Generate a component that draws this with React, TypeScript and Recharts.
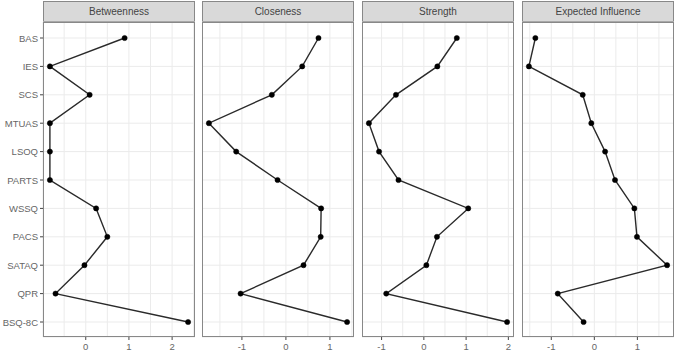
import { LineChart, Line, XAxis, YAxis, CartesianGrid } from 'recharts'

const nodes = ['BAS', 'IES', 'SCS', 'MTUAS', 'LSOQ', 'PARTS', 'WSSQ', 'PACS', 'SATAQ', 'QPR', 'BSQ-8C']

const betweenness = [0.9, -0.83, 0.09, -0.83, -0.83, -0.83, 0.24, 0.5, -0.03, -0.7, 2.37]
const closeness = [0.74, 0.37, -0.32, -1.75, -1.13, -0.19, 0.8, 0.79, 0.4, -1.03, 1.39]
const strength = [0.78, 0.32, -0.66, -1.3, -1.06, -0.6, 1.05, 0.31, 0.06, -0.89, 1.97]
const expectedInfluence = [-1.37, -1.52, -0.27, -0.07, 0.25, 0.48, 0.93, 0.99, 1.69, -0.85, -0.25]

const panels = [
  { title: 'Betweenness', values: betweenness, left: 43 },
  { title: 'Closeness', values: closeness, left: 202 },
  { title: 'Strength', values: strength, left: 362 },
  { title: 'Expected Influence', values: expectedInfluence, left: 522 },
]

const PANEL_W = 152
const TOP = 22
const BOTTOM = 337
const H = 352
const FONT = '"Liberation Sans", Arial, sans-serif'

// ggplot-style domain: data range padded by 5% on each side
function expandDomain(vals: number[]): [number, number] {
  const lo = Math.min(...vals)
  const hi = Math.max(...vals)
  const pad = (hi - lo) * 0.05
  return [lo - pad, hi + pad]
}

function halfTicks([lo, hi]: [number, number]) {
  const out: number[] = []
  for (let t = Math.ceil(lo * 2) / 2; t <= hi; t += 0.5) out.push(t)
  return out
}

function XTick(props: any) {
  const { x, payload } = props
  if (!Number.isInteger(payload.value)) return null
  return (
    <g>
      <line x1={x} x2={x} y1={BOTTOM} y2={BOTTOM + 3} stroke="#444" strokeWidth={1} />
      <text x={x} y={350} textAnchor="middle" fill="#666" fontSize={9.5} fontFamily={FONT}>
        {payload.value < 0 ? `-${Math.abs(payload.value)}` : payload.value}
      </text>
    </g>
  )
}

function YTick(props: any) {
  const { y, payload } = props
  const x = panels[0].left
  return (
    <g>
      <line x1={x - 3} x2={x} y1={y} y2={y} stroke="#444" strokeWidth={1} />
      <text x={x - 5} y={y} textAnchor="end" dominantBaseline="central" fill="#666" fontSize={9.5} fontFamily={FONT}>
        {payload.value}
      </text>
    </g>
  )
}

function Panel({ title, values, left, first }: { title: string; values: number[]; left: number; first: boolean }) {
  const data = nodes.map((name, i) => ({ name, value: values[i] }))
  const domain = expandDomain(values)
  const yw = first ? left : 0
  const chartLeft = first ? 0 : left
  return (
    <>
      <div
        style={{
          position: 'absolute',
          left,
          top: 1,
          width: PANEL_W,
          height: TOP - 1,
          boxSizing: 'border-box',
          background: '#d9d9d9',
          border: '1px solid #888',
          borderBottom: '1px solid #666',
          font: `10px ${FONT}`,
          color: '#444',
          textAlign: 'center',
          lineHeight: '19px',
        }}
      >
        {title}
      </div>
      <div style={{ position: 'absolute', left: chartLeft, top: 0 }}>
        <LineChart
          width={yw + PANEL_W}
          height={H}
          data={data}
          layout="vertical"
          margin={{ top: TOP, right: 0, bottom: 0, left: 0 }}
        >
          <CartesianGrid stroke="#ebebeb" strokeWidth={1} />
          <XAxis
            type="number"
            dataKey="value"
            domain={domain}
            ticks={halfTicks(domain)}
            allowDataOverflow
            axisLine={false}
            tickLine={false}
            tick={<XTick />}
            height={H - BOTTOM}
            interval={0}
          />
          <YAxis
            type="category"
            dataKey="name"
            scale="point"
            padding={{ top: 16, bottom: 15 }}
            hide={!first}
            width={yw}
            axisLine={false}
            tickLine={false}
            tick={<YTick />}
            interval={0}
          />
          <Line
            dataKey="value"
            stroke="#2a2a2a"
            strokeWidth={1.4}
            dot={{ r: 2.6, fill: '#000', stroke: '#000', strokeWidth: 0.5 }}
            isAnimationActive={false}
          />
        </LineChart>
      </div>
      <div
        style={{
          position: 'absolute',
          left,
          top: TOP,
          width: PANEL_W,
          height: BOTTOM - TOP,
          boxSizing: 'border-box',
          border: '1px solid #888',
          pointerEvents: 'none',
        }}
      />
    </>
  )
}

export default function App() {
  return (
    <div style={{ position: 'absolute', left: 0, top: 0, width: 676, height: 352, background: '#fff', overflow: 'hidden' }}>
      {panels.map((p, i) => (
        <Panel key={p.title} title={p.title} values={p.values} left={p.left} first={i === 0} />
      ))}
    </div>
  )
}
